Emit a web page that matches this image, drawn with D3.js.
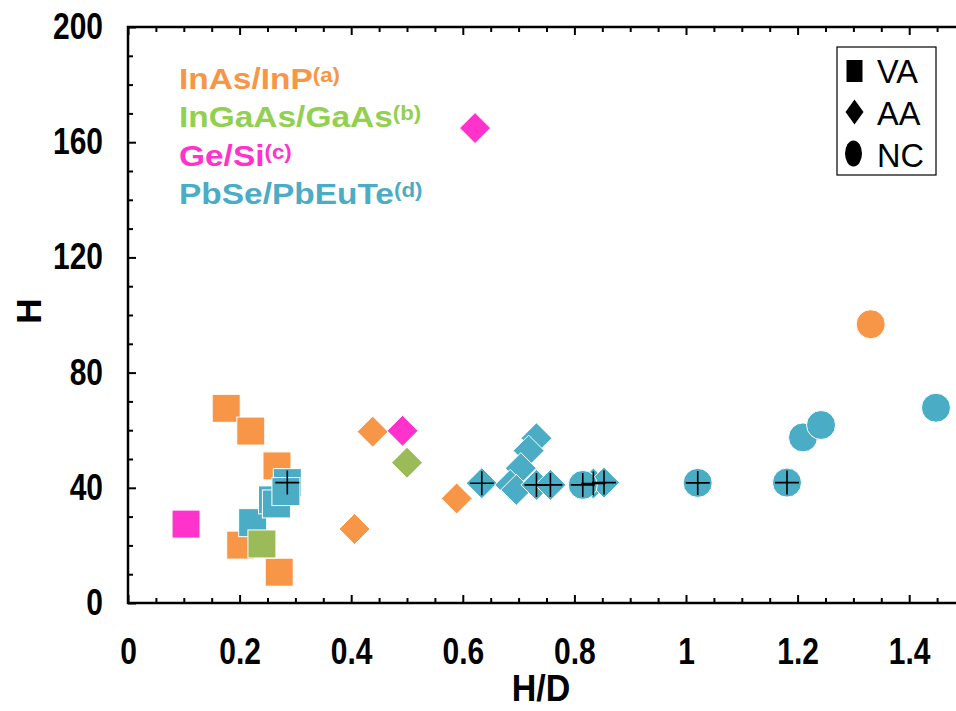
<!DOCTYPE html>
<html>
<head>
<meta charset="utf-8">
<script src="https://cdn.jsdelivr.net/npm/d3@7/dist/d3.min.js"></script>
<style>
  html, body { margin: 0; padding: 0; background: #fff; overflow: hidden; }
  svg { display: block; }
</style>
</head>
<body>
<svg id="chart" width="956" height="711"></svg>
<script>
// ---------- DATA ----------
const materials = ["InAs/InP", "InGaAs/GaAs", "Ge/Si", "PbSe/PbEuTe"];
const materialRefs = ["(a)", "(b)", "(c)", "(d)"];
const shapes = ["VA", "AA", "NC"];

// [H/D, H]
const inasVA = [[0.176, 67.6], [0.220, 59.7], [0.267, 47.6], [0.202, 20.1], [0.271, 10.7]];
const inasAA = [[0.4385, 59.5], [0.589, 36.3], [0.406, 25.7]];
const inasNC = [[1.331, 96.8]];

const ingaasVA = [[0.240, 20.5]];
const ingaasAA = [[0.500, 48.7]];

const gesiVA = [[0.104, 27.4]];
const gesiAA = [[0.492, 59.8], [0.622, 164.9]];

const pbseVA = [[0.2234, 27.9], [0.259, 35.8], [0.266, 34.4], [0.2855, 41.8], [0.283, 38.7]];
const pbseAA = [[0.634, 41.6], [0.732, 57.2], [0.718, 52.9], [0.704, 46.8], [0.685, 41.0],
                [0.696, 39.3], [0.732, 41.0], [0.757, 41.0], [0.834, 41.5], [0.853, 41.8]];
const pbseNC = [[0.815, 41.0], [1.021, 41.7], [1.181, 41.8], [1.2097, 57.5], [1.242, 61.8], [1.448, 67.8]];

// points marked with a black "+"
const crossed = [[0.2855, 41.8], [0.634, 41.6], [0.732, 41.0], [0.757, 41.0], [0.815, 41.0],
                 [0.834, 41.5], [0.853, 41.8], [1.021, 41.7], [1.181, 41.8]];

const xTickValues = [0, 0.2, 0.4, 0.6, 0.8, 1, 1.2, 1.4];
const xTickLabels = ["0", "0.2", "0.4", "0.6", "0.8", "1", "1.2", "1.4"];
const yTickValues = [0, 40, 80, 120, 160, 200];
const yTickLabels = ["0", "40", "80", "120", "160", "200"];

// ---------- STYLE ----------
const markerColor = { "InAs/InP": "#F79646", "InGaAs/GaAs": "#9BBB59", "Ge/Si": "#FF33CC", "PbSe/PbEuTe": "#4BACC6" };
const textColor = { "InAs/InP": "#F79646", "InGaAs/GaAs": "#92D050", "Ge/Si": "#FF33CC", "PbSe/PbEuTe": "#4BACC6" };

const svg = d3.select("#chart");
const x = d3.scaleLinear().domain([0, 1.5]).range([128, 965]);
const y = d3.scaleLinear().domain([0, 200]).range([603, 27]);

const FONT = "'Liberation Sans', Arial, Helvetica, sans-serif";
const STRETCH = 1.2;

// ---------- AXES ----------
const minorX = d3.range(0, 1.501, 0.05).filter(v => Math.abs(v * 5 - Math.round(v * 5)) > 1e-6);
const minorY = d3.range(0, 201, 10).filter(v => v % 40 !== 0);

function styleAxis(g) {
  g.select(".domain").remove();
  g.selectAll(".tick line").attr("stroke", "#000").attr("stroke-width", 2);
  g.selectAll("text").attr("fill", "#000").style("font-family", FONT)
    .style("font-weight", "bold").style("font-size", "30px")
    .attr("transform", `scale(1,${STRETCH})`);
}

svg.append("g").attr("transform", `translate(0,${y(0)})`)
  .call(d3.axisBottom(x).tickValues(xTickValues).tickSize(-8).tickPadding(35 / STRETCH)
    .tickFormat((d, i) => xTickLabels[i]))
  .call(styleAxis);
svg.append("g").attr("transform", `translate(0,${y(0)})`)
  .call(d3.axisBottom(x).tickValues(minorX).tickSize(-5).tickFormat(""))
  .call(styleAxis);
svg.append("g").attr("transform", `translate(0,${y(200)})`)
  .call(d3.axisTop(x).tickValues(xTickValues).tickSize(-8).tickFormat(""))
  .call(styleAxis);
svg.append("g").attr("transform", `translate(0,${y(200)})`)
  .call(d3.axisTop(x).tickValues(minorX).tickSize(-5).tickFormat(""))
  .call(styleAxis);
svg.append("g").attr("transform", `translate(${x(0)},0)`)
  .call(d3.axisLeft(y).tickValues(yTickValues).tickSize(-8).tickPadding(25)
    .tickFormat((d, i) => yTickLabels[i]))
  .call(styleAxis);
svg.append("g").attr("transform", `translate(${x(0)},0)`)
  .call(d3.axisLeft(y).tickValues(minorY).tickSize(-5).tickFormat(""))
  .call(styleAxis);

// frame
svg.append("rect")
  .attr("x", x(0)).attr("y", y(200))
  .attr("width", x(1.5) - x(0)).attr("height", y(0) - y(200))
  .attr("fill", "none").attr("stroke", "#000").attr("stroke-width", 2.5);

// axis titles
svg.append("text").attr("transform", "translate(541,701) scale(1,1.1)").attr("text-anchor", "middle")
  .style("font-family", FONT).style("font-weight", "bold").style("font-size", "34px")
  .text("H/D");
svg.append("text").attr("transform", "translate(41,311) rotate(-90)").attr("text-anchor", "middle")
  .style("font-family", FONT).style("font-weight", "bold").style("font-size", "35px")
  .text("H");

// ---------- MARKERS ----------
const SQ = 28, DI = 31, CI = 29;
const plot = svg.append("g");

function drawSeries(data, mat, shape) {
  const col = markerColor[mat];
  const g = plot.append("g");
  data.forEach(d => {
    const cx = x(d[0]), cy = y(d[1]);
    let el;
    if (shape === "VA") {
      el = g.append("rect").attr("x", cx - SQ / 2).attr("y", cy - SQ / 2).attr("width", SQ).attr("height", SQ);
    } else if (shape === "AA") {
      const h = DI / 2;
      el = g.append("path").attr("d", `M${cx},${cy - h}L${cx + h},${cy}L${cx},${cy + h}L${cx - h},${cy}Z`);
    } else {
      el = g.append("circle").attr("cx", cx).attr("cy", cy).attr("r", CI / 2);
    }
    el.attr("fill", col).attr("stroke", "#fff").attr("stroke-width", 1);
  });
}

drawSeries(inasVA, "InAs/InP", "VA");
drawSeries(inasAA, "InAs/InP", "AA");
drawSeries(inasNC, "InAs/InP", "NC");
drawSeries(gesiVA, "Ge/Si", "VA");
drawSeries(pbseVA, "PbSe/PbEuTe", "VA");
drawSeries(pbseAA, "PbSe/PbEuTe", "AA");
drawSeries(pbseNC, "PbSe/PbEuTe", "NC");
drawSeries(gesiAA, "Ge/Si", "AA");
drawSeries(ingaasVA, "InGaAs/GaAs", "VA");
drawSeries(ingaasAA, "InGaAs/GaAs", "AA");

// crosses
const CR = 12;
plot.append("g").selectAll("path").data(crossed).join("path")
  .attr("d", d => {
    const cx = x(d[0]), cy = y(d[1]);
    return `M${cx - CR},${cy}H${cx + CR}M${cx},${cy - CR}V${cy + CR}`;
  })
  .attr("stroke", "#000").attr("stroke-width", 1.6).attr("fill", "none");

// ---------- MATERIAL LEGEND ----------
const matBaselines = [88.5, 127, 165.5, 204];
materials.forEach((m, i) => {
  const t = svg.append("text")
    .attr("transform", `translate(179,${matBaselines[i]}) scale(1.115,1)`)
    .attr("x", 0).attr("y", 0)
    .style("font-family", FONT).style("font-weight", "bold").style("font-size", "30px")
    .attr("fill", textColor[m]);
  t.append("tspan").text(m);
  t.append("tspan").attr("dy", -7).style("font-size", "20px").text(materialRefs[i]);
});

// ---------- SHAPE LEGEND ----------
svg.append("rect").attr("x", 837).attr("y", 47).attr("width", 99).attr("height", 128)
  .attr("fill", "#fff").attr("stroke", "#000").attr("stroke-width", 1.2);
const legY = [71, 112, 153.5];
const legBase = [83.3, 125, 166.7];
shapes.forEach((s, i) => {
  const cx = 854.5, cy = legY[i];
  if (s === "VA") {
    svg.append("rect").attr("x", cx - 8).attr("y", cy - 11).attr("width", 16).attr("height", 22).attr("fill", "#000");
  } else if (s === "AA") {
    svg.append("path").attr("d", `M${cx},${cy - 12.5}L${cx + 9},${cy}L${cx},${cy + 12.5}L${cx - 9},${cy}Z`).attr("fill", "#000");
  } else {
    svg.append("ellipse").attr("cx", cx - 1).attr("cy", cy).attr("rx", 8.5).attr("ry", 13).attr("fill", "#000");
  }
  svg.append("text").attr("x", 877).attr("y", legBase[i])
    .style("font-family", FONT).style("font-size", "32.5px").attr("fill", "#000").text(s);
});
</script>
</body>
</html>
